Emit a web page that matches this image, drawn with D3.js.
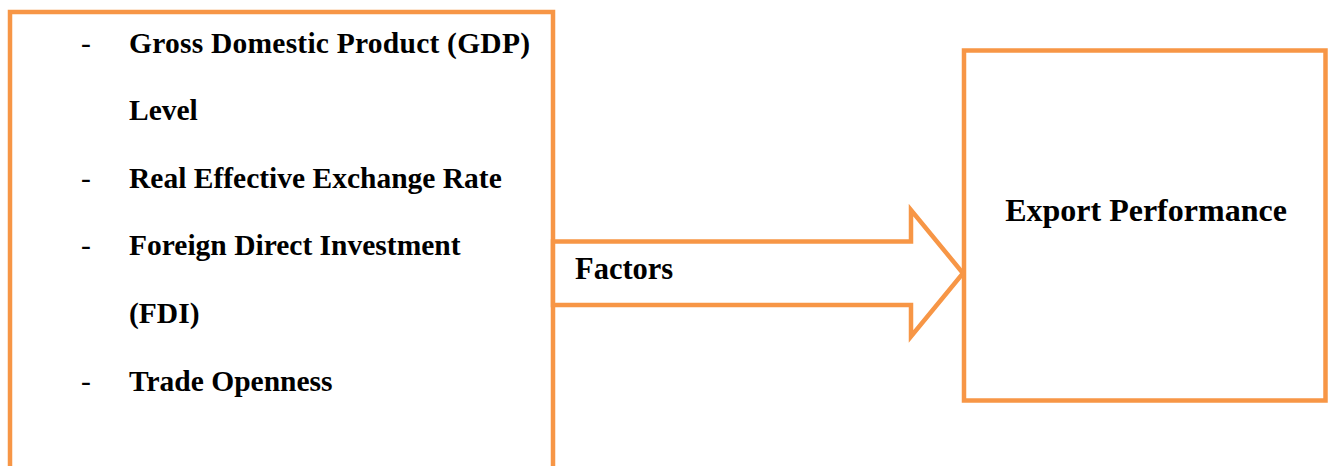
<!DOCTYPE html>
<html>
<head>
<meta charset="utf-8">
<script src="https://cdn.jsdelivr.net/npm/d3@7"></script>
<style>
  html, body { margin: 0; padding: 0; background: #fff; }
  svg { display: block; }
  .label { font-family: "Times New Roman", "Liberation Serif", Times, serif; font-weight: bold; fill: #000; }
</style>
</head>
<body>
<div id="chart"></div>
<script>
// diagram content
const factorLines = [
  { bullet: true, text: 'Gross Domestic Product (GDP)', justify: true },
  { bullet: false, text: 'Level' },
  { bullet: true, text: 'Real Effective Exchange Rate' },
  { bullet: true, text: 'Foreign Direct Investment' },
  { bullet: false, text: '(FDI)' },
  { bullet: true, text: 'Trade Openness' }
];
const arrowLabel = 'Factors';
const outcomeLabel = 'Export Performance';

const width = 1331;
const height = 466;
const orange = '#F79646';
const strokeW = 4.5;

const svg = d3.select('#chart').append('svg')
  .attr('width', width)
  .attr('height', height);

// line positions
const lineY = d3.scaleLinear()
  .domain([0, factorLines.length - 1])
  .range([52.5, 390.5]);

// left box (runs off the bottom of the page)
svg.append('rect')
  .attr('x', 10)
  .attr('y', 12)
  .attr('width', 543)
  .attr('height', 500)
  .attr('fill', 'none')
  .attr('stroke', orange)
  .attr('stroke-width', strokeW);

// block arrow
const arrow = { x0: 553, x1: 911, tip: 963, shaftTop: 241.5, shaftBot: 305, headTop: 210, headBot: 336.5 };
const arrowPts = [
  [arrow.x0, arrow.shaftTop],
  [arrow.x1, arrow.shaftTop],
  [arrow.x1, arrow.headTop],
  [arrow.tip, (arrow.headTop + arrow.headBot) / 2],
  [arrow.x1, arrow.headBot],
  [arrow.x1, arrow.shaftBot],
  [arrow.x0, arrow.shaftBot]
];
svg.append('path')
  .attr('d', d3.line()(arrowPts) + 'Z')
  .attr('fill', '#fff')
  .attr('stroke', orange)
  .attr('stroke-width', strokeW)
  .attr('stroke-linejoin', 'miter');

// right box
svg.append('rect')
  .attr('x', 964)
  .attr('y', 50.5)
  .attr('width', 361.5)
  .attr('height', 350)
  .attr('fill', '#fff')
  .attr('stroke', orange)
  .attr('stroke-width', strokeW);

// factor list
const rows = svg.selectAll('.g-row')
  .data(factorLines)
  .enter()
  .append('g')
  .attr('class', 'g-row')
  .attr('transform', (d, i) => `translate(0, ${lineY(i)})`);

rows.filter(d => d.bullet)
  .append('text')
  .attr('class', 'label')
  .attr('x', 81)
  .attr('font-size', 29.5)
  .style('font-weight', 'normal')
  .text('-');

rows.append('text')
  .attr('class', 'label')
  .attr('x', 129)
  .attr('font-size', 29.5)
  .each(function(d) {
    if (d.justify) {
      d3.select(this).attr('textLength', 401).attr('lengthAdjust', 'spacing');
    }
  })
  .text(d => d.text);

svg.append('text')
  .attr('class', 'label')
  .attr('x', 575)
  .attr('y', 278.5)
  .attr('font-size', 30.5)
  .text(arrowLabel);

svg.append('text')
  .attr('class', 'label')
  .attr('x', 1146)
  .attr('y', 220.5)
  .attr('text-anchor', 'middle')
  .attr('font-size', 32)
  .text(outcomeLabel);
</script>
</body>
</html>
